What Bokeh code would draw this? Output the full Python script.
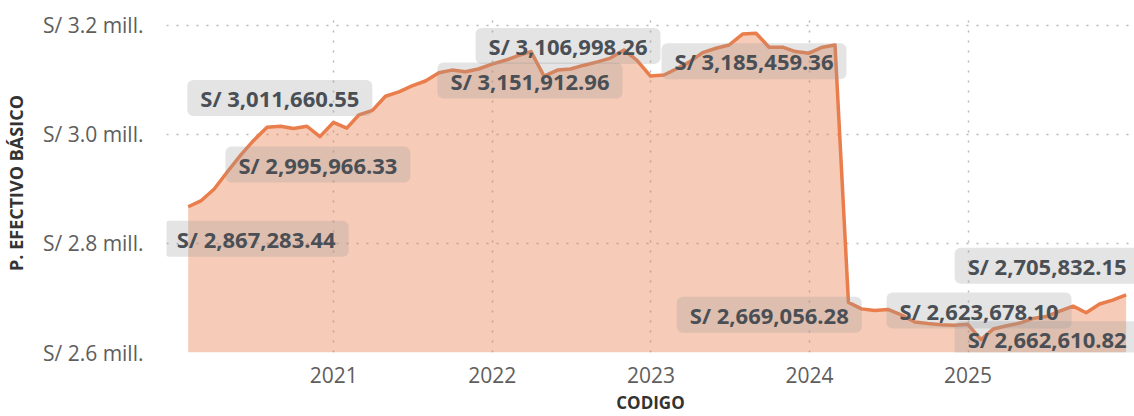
import pandas as pd
from bokeh.plotting import figure
from bokeh.models import ColumnDataSource, FixedTicker, CustomJSTickFormatter, Range1d
from bokeh.core.properties import value
from bokeh.embed import file_html
from bokeh.resources import INLINE

# ---- data -------------------------------------------------------------
months = pd.date_range("2020-01-31", periods=72, freq="ME")

values_2020 = [2867283.44, 2878000, 2900000, 2931000, 2962000, 2989000,
               3013000, 3015000, 3011000, 3015000, 2995966.33, 3022000]
values_2021 = [3011660.55, 3036000, 3044000, 3070000, 3078000, 3089000,
               3098000, 3113000, 3118000, 3115000, 3120000, 3129000]
values_2022 = [3136000, 3144000, 3151912.96, 3106998.26, 3118000, 3120000,
               3127000, 3133000, 3140000, 3155000, 3136000, 3107000]
values_2023 = [3109000, 3120000, 3133000, 3150000, 3158000, 3164000,
               3184000, 3185459.36, 3160000, 3160000, 3152000, 3149000]
values_2024 = [3160000, 3164000, 2692000, 2680000, 2677000, 2679000,
               2669056.28, 2656000, 2653000, 2651000, 2650000, 2652000]
values_2025 = [2623678.10, 2643000, 2649000, 2654000, 2662610.82, 2666000,
               2676000, 2685000, 2673000, 2689000, 2696000, 2705832.15]
values = values_2020 + values_2021 + values_2022 + values_2023 + values_2024 + values_2025

y_ticks = [2600000, 2800000, 3000000, 3200000]
x_ticks = [2021, 2022, 2023, 2024, 2025]

# indices of points that carry a data label
label_index = [0, 12, 10, 26, 27, 43, 54, 60, 64, 71]

# ---- derived ----------------------------------------------------------
xs = [d.year + (d.dayofyear - 1) / (366 if d.is_leap_year else 365) for d in months]
src = ColumnDataSource(dict(x=xs, y=values))

lab_x = [xs[i] for i in label_index]
lab_y = [values[i] for i in label_index]
lab_t = ["S/ {:,.2f}".format(values[i]) for i in label_index]
lab_dx = [68, -67, -2, -1, 24, -2, -132, -2, 14, -79]
lab_dy = [32, -30, 28, 29, -30, 28, 0, -29, 21, -29]
lab_src = ColumnDataSource(dict(x=lab_x, y=lab_y, t=lab_t, dx=lab_dx, dy=lab_dy))

LINE = "#E97D4B"
Y0 = y_ticks[0]

p = figure(width=1134, height=416, output_backend="svg", toolbar_location=None,
           x_range=Range1d(2019.945, 2026.05), y_range=Range1d(Y0, 3221800),
           min_border_left=160, min_border_right=0, min_border_top=13, min_border_bottom=61)
p.outline_line_color = None
p.background_fill_color = "white"

p.varea(x="x", y1=Y0, y2="y", source=src, fill_color=LINE, fill_alpha=0.4)
p.line(x="x", y="y", source=src, line_color=LINE, line_width=3.5, line_join="round")

p.text(x="x", y="y", text="t", x_offset="dx", y_offset="dy", source=lab_src,
       text_font=value("Open Sans"), text_font_size="22px", text_font_style="bold",
       text_color="#4A4F55", text_align="center", text_baseline="middle",
       background_fill_color="#9A9A9A", background_fill_alpha=0.27,
       border_radius=6, padding=[13, 3])

# axes
for ax in (p.xaxis[0], p.yaxis[0]):
    ax.axis_line_color = None
    ax.major_tick_line_color = None
    ax.minor_tick_line_color = None
    ax.major_label_text_font = "Open Sans"
    ax.major_label_text_font_size = "21px"
    ax.major_label_text_color = "#605E5C"
    ax.axis_label_text_font = "Open Sans"
    ax.axis_label_text_font_style = "bold"
    ax.axis_label_text_color = "#333333"

p.yaxis.ticker = FixedTicker(ticks=y_ticks)
p.yaxis.formatter = CustomJSTickFormatter(code="return 'S/ ' + (tick/1e6).toFixed(1) + ' mill.';")
p.yaxis.axis_label = "P. EFECTIVO BÁSICO"
p.yaxis.axis_label_text_font_size = "18px"
p.yaxis.major_label_standoff = 17
p.yaxis.axis_label_standoff = 12

p.xaxis.ticker = FixedTicker(ticks=x_ticks)
p.xaxis.formatter = CustomJSTickFormatter(code="return tick.toFixed(0);")
p.xaxis.axis_label = "CODIGO"
p.xaxis.axis_label_text_font_size = "17px"
p.xaxis.major_label_standoff = 8
p.xaxis.axis_label_standoff = 5

for g in (p.xgrid[0], p.ygrid[0]):
    g.grid_line_color = "#B8B8B8"
    g.grid_line_dash = "2 8"
    g.grid_line_width = 1.5
p.xgrid.ticker = FixedTicker(ticks=x_ticks)
p.ygrid.ticker = FixedTicker(ticks=y_ticks)

open("out.html", "w").write(file_html(p, INLINE))
